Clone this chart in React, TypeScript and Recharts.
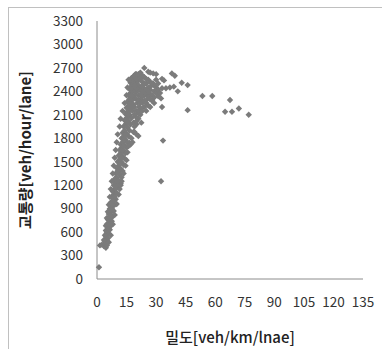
import { ScatterChart, Scatter, XAxis, YAxis, Label } from 'recharts';

// density [veh/km/lane]
const density: number[] = [
  1, 1.5, 2.5, 3.5, 4.5, 4, 5,
  4, 5, 4.5, 5.5, 5, 6, 4.5, 5.5, 6.5, 5, 6, 7, 5.5, 6.5, 7.5, 6, 7, 8,
  6.5, 7.5, 8.5, 7, 8, 9, 7.5, 8.5, 9.5, 8, 9, 10, 8.5, 9.5, 10.5, 11.5,
  9, 10, 11, 12, 9.5, 10.5, 11.5, 12.5, 10, 11, 12, 13, 10.5, 11.5, 12.5, 13.5,
  11, 12, 13, 14, 11.5, 12.5, 13.5, 14.5, 12, 13, 14, 15, 12.5, 13.5, 14.5, 15.5, 16.5,
  13, 14, 15, 16, 13.5, 14.5, 15.5, 16.5, 14, 15, 16, 17, 14.5, 15.5, 16.5, 17.5,
  15, 16, 17, 18, 15.5, 16.5, 17.5, 18.5, 16, 17, 18, 19, 16.5, 17.5, 18.5, 19.5,
  17, 18, 19, 20, 17.5, 18.5, 19.5, 20.5,
  21, 22, 23, 21.5, 22.5, 23.5, 24, 25, 26, 24.5, 25.5, 26.5, 27, 28, 27.5, 29,
  20, 21, 22, 20.5, 21.5, 23, 24, 25, 26, 19, 20, 22, 21, 20, 19, 20, 21, 18, 17,
  18.5, 19.5, 22.5, 28.5, 30, 31, 19.5, 20.5, 22, 23.5,
  24, 26, 27, 28.5, 30, 33, 34, 38, 39.5, 43, 46, 35, 37, 39, 41, 31, 32.5, 33,
  46, 53.5, 58.5, 67.5, 65, 68.5, 72, 77, 33.5, 32.5,
  // left edge of the band
  3.5, 4, 4.5, 5, 5.5, 6, 6.5, 7, 7.5, 8, 8.5, 9, 9.5, 10, 10.5, 11.5, 12, 13, 14, 15, 15.5, 16,
  // right edge of the band
  6, 7, 8, 9, 10, 11, 12, 12.5, 13.5, 14.5, 15, 15.5, 16, 17.5, 18.5, 19, 20, 21, 22,
  // cluster near capacity
  17, 18, 19, 20, 21, 22, 23, 24, 25, 26, 27, 28, 29, 30,
  18, 19, 20, 21, 22, 23, 24, 25, 26, 27, 28, 29, 30, 31, 32, 33,
  19, 20, 21, 22, 23, 24, 18, 17, 18, 19, 21, 23, 25, 27, 29,
  // band interior
  6, 6.5, 7, 7.5, 8, 8.5, 9, 9.5, 10, 10.5, 11, 11.5, 12, 12.5, 13, 13.5, 14, 14.5,
  15, 15.5, 16, 16.5, 17, 17.5, 18, 18.5, 19, 20, 21, 22, 23, 24, 25, 26, 20, 19,
];

// flow [veh/hour/lane], same order as density
const flow: number[] = [
  150, 430, 440, 420, 400, 450, 430,
  480, 500, 550, 520, 600, 580, 620, 650, 630, 700, 720, 680, 760, 780, 740, 830, 850, 800,
  900, 920, 870, 980, 1000, 950, 1050, 1080, 1020, 1120, 1150, 1100, 1200, 1230, 1180, 1150,
  1280, 1300, 1260, 1220, 1350, 1380, 1340, 1300, 1420, 1450, 1410, 1380, 1500, 1530, 1490, 1460,
  1580, 1610, 1570, 1540, 1650, 1680, 1640, 1610, 1720, 1750, 1710, 1680, 1800, 1820, 1780, 1750, 1740,
  1870, 1900, 1860, 1830, 1950, 1980, 1940, 1900, 2030, 2060, 2020, 1980, 2110, 2140, 2100, 2060,
  2190, 2220, 2180, 2150, 2270, 2300, 2260, 2230, 2350, 2380, 2340, 2310, 2430, 2460, 2420, 2390,
  2510, 2540, 2500, 2470, 2570, 2590, 2560, 2530,
  2550, 2580, 2520, 2450, 2400, 2480, 2430, 2500, 2450, 2360, 2300, 2380, 2420, 2350, 2470, 2400,
  2400, 2350, 2300, 2250, 2200, 2250, 2200, 2250, 2220, 2200, 2150, 2100, 2050, 1980, 1880, 1850, 1830, 1750, 1720,
  2000, 2080, 2000, 2500, 2450, 2500, 2620, 2600, 2560, 2590,
  2700, 2650, 2640, 2630, 2620, 2560, 2540, 2630, 2600, 2510, 2480, 2440, 2450, 2460, 2400, 2340, 2310, 2200,
  2160, 2340, 2340, 2290, 2140, 2140, 2180, 2100, 1770, 1250,
  500, 560, 680, 780, 860, 950, 1050, 1150, 1250, 1350, 1450, 1550, 1650, 1750, 1850, 1950, 2050, 2150, 2250, 2350, 2450, 2550,
  470, 560, 700, 820, 960, 1080, 1200, 1250, 1350, 1450, 1520, 1620, 1700, 1800, 1880, 1950, 2020, 2120, 2180,
  2450, 2480, 2440, 2510, 2480, 2450, 2400, 2350, 2380, 2330, 2300, 2280, 2320, 2380,
  2400, 2350, 2300, 2280, 2250, 2330, 2280, 2420, 2550, 2520, 2500, 2480, 2550, 2420, 2380, 2440,
  2600, 2620, 2620, 2640, 2600, 2580, 2300, 2250, 2200, 2100, 2150, 2150, 2150, 2200, 2250,
  650, 700, 800, 900, 950, 1000, 1050, 1150, 1200, 1250, 1350, 1400, 1500, 1550, 1650, 1700, 1800, 1850,
  1950, 2000, 2100, 2150, 2300, 2350, 2450, 2500, 2550, 2560, 2420, 2360, 2460, 2500, 2560, 2400, 2440, 2470,
];

const xTicks = [0, 15, 30, 45, 60, 75, 90, 105, 120, 135];
const yTicks = [0, 300, 600, 900, 1200, 1500, 1800, 2100, 2400, 2700, 3000, 3300];

const points = density.map((d, i) => ({ d, f: flow[i] }));

const tickStyle = { fontFamily: '"Noto Sans CJK KR"', fontSize: 13.5, fill: '#333' };

function Diamond(props: any) {
  const { cx, cy } = props;
  const r = 3.2;
  return (
    <polygon
      points={`${cx},${cy - r} ${cx + r},${cy} ${cx},${cy + r} ${cx - r},${cy}`}
      fill="#7b7b7b"
    />
  );
}

export default function App() {
  return (
    <div style={{ position: 'absolute', left: 0, top: 0, width: 382, height: 349, background: '#fff' }}>
      <div
        style={{
          position: 'absolute',
          left: 8,
          top: 7,
          width: 374,
          height: 342,
          borderTop: '1px solid #c0c0c0',
          borderLeft: '1px solid #c0c0c0',
        }}
      />
      <ScatterChart width={382} height={349} margin={{ top: 21, right: 19, bottom: 25, left: 0 }} style={{ position: 'absolute', left: 0, top: 0 }}>
        <XAxis
          type="number"
          dataKey="d"
          domain={[0, 135]}
          ticks={xTicks}
          interval={0}
          tickLine={false}
          tickSize={0}
          tickMargin={18}
          height={45}
          stroke="#8c8c8c"
          tick={tickStyle}
        >
          <Label
            value="밀도[veh/km/lnae]"
            position="insideBottom"
            offset={-19}
            style={{ fontFamily: '"Noto Sans CJK KR"', fontSize: 15, fill: '#222', fontWeight: 500 }}
          />
        </XAxis>
        <YAxis
          type="number"
          dataKey="f"
          domain={[0, 3300]}
          ticks={yTicks}
          interval={0}
          tickLine={false}
          tickSize={0}
          tickMargin={14}
          width={97}
          stroke="#8c8c8c"
          tick={tickStyle}
        >
          <Label
            value="교통량[veh/hour/lane]"
            angle={-90}
            position="insideLeft"
            offset={26}
            style={{ fontFamily: '"Noto Sans CJK KR"', fontSize: 15, fill: '#222', fontWeight: 700, textAnchor: 'middle' }}
          />
        </YAxis>
        <Scatter data={points} shape={<Diamond />} isAnimationActive={false} />
      </ScatterChart>
    </div>
  );
}
